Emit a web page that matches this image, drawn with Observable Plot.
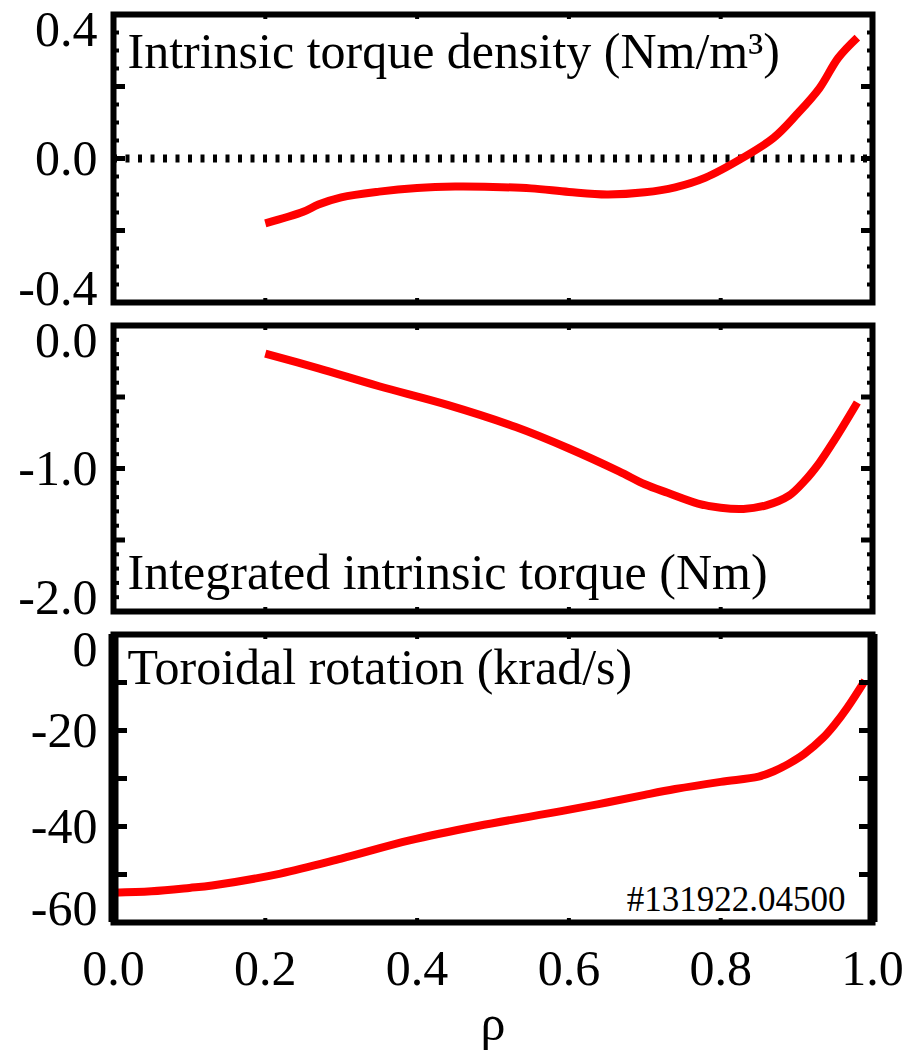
<!DOCTYPE html>
<html><head><meta charset="utf-8">
<script src="https://cdn.jsdelivr.net/npm/d3@7"></script>
<script src="https://cdn.jsdelivr.net/npm/@observablehq/plot@0.6"></script>
<style>
body{margin:0;background:#fff}
#chart svg{display:block}
#chart text{font-family:"Liberation Serif","Times New Roman",serif}
</style>
</head><body><div id="chart"></div>
<script>
// ---- data ----
const rho1 = [0.20,0.25,0.27,0.30,0.35,0.40,0.45,0.50,0.55,0.60,0.65,0.70,0.74,0.78,0.83,0.87,0.90,0.93,0.955,0.98];
const torqueDensity = [-0.180,-0.148,-0.128,-0.108,-0.092,-0.082,-0.078,-0.079,-0.083,-0.093,-0.100,-0.094,-0.080,-0.053,0.003,0.058,0.122,0.195,0.280,0.336];

const rho2 = [0.20,0.27,0.35,0.44,0.53,0.60,0.666,0.70,0.73,0.77,0.80,0.83,0.86,0.89,0.91,0.93,0.95,0.98];
const integratedTorque = [-0.196,-0.30,-0.425,-0.555,-0.71,-0.86,-1.02,-1.11,-1.17,-1.245,-1.275,-1.283,-1.258,-1.19,-1.09,-0.96,-0.80,-0.538];

const rho3 = [0.00,0.05,0.10,0.13,0.22,0.30,0.39,0.48,0.59,0.65,0.70,0.74,0.80,0.85,0.87,0.89,0.91,0.935,0.95,0.967,0.99];
const rotation = [-53.8,-53.5,-52.8,-52.3,-49.8,-46.7,-42.9,-39.9,-36.8,-35.0,-33.4,-32.2,-30.7,-29.6,-28.5,-26.9,-24.9,-21.5,-18.8,-15.2,-9.6];

const xTicks = [0,0.2,0.4,0.6,0.8,1.0];
const titles = ["Intrinsic torque density (Nm/m³)","Integrated intrinsic torque (Nm)","Toroidal rotation (krad/s)"];
const shotLabel = "#131922.04500";
const xLabel = "ρ";

const FONT = "Liberation Serif";
const FS = 50;

function yAxes({major, minor, labelsMid, labelTop, labelBottom, fmt, majorLen = -12, minorLen = -6}) {
  const m = [];
  for (const anchor of ["left","right"]) {
    m.push(Plot.axisY(major, {anchor, tickSize: majorLen, strokeWidth: 5, fill: "none", label: null}));
    if (minor) m.push(Plot.axisY(minor, {anchor, tickSize: minorLen, strokeWidth: 4, fill: "none", label: null}));
  }
  const txt = (ticks, dy) => Plot.axisY(ticks, {anchor: "left", tickSize: 0, tickPadding: 16, dy, fontSize: FS, fontFamily: FONT, tickFormat: fmt, label: null, fill: "black"});
  m.push(txt(labelsMid, 0), txt([labelTop], 15), txt([labelBottom], -14));
  return m;
}

function xTickMarks() {
  return [
    Plot.axisX(xTicks, {anchor: "top", tickSize: -4, strokeWidth: 4, fill: "none", label: null}),
    Plot.axisX(xTicks, {anchor: "bottom", tickSize: -4, strokeWidth: 4, fill: "none", label: null})
  ];
}

const common = {width: 909, marginLeft: 113, marginRight: 37, style: {fontFamily: FONT, background: "white", overflow: "visible", color: "black"}};
const lineOpts = {x: "rho", y: "v", stroke: "#ff0000", strokeWidth: 8, curve: "catmull-rom", strokeLinecap: "butt"};

const d1 = rho1.map((r,i) => ({rho: r, v: torqueDensity[i]}));
const d2 = rho2.map((r,i) => ({rho: r, v: integratedTorque[i]}));
const d3v = rho3.map((r,i) => ({rho: r, v: rotation[i]}));

const p1 = Plot.plot({
  ...common, height: 313, marginTop: 14, marginBottom: 11,
  x: {domain: [0,1]}, y: {domain: [-0.4,0.4]},
  marks: [
    Plot.ruleY([0], {stroke: "black", strokeWidth: 8, strokeDasharray: "4,8.5"}),
    Plot.line(d1, lineOpts),
    Plot.frame({stroke: "black", strokeWidth: 6}),
    ...yAxes({major: d3.range(-0.4,0.41,0.2).map(v=>+v.toFixed(2)), minor: d3.range(-0.4,0.41,0.05).map(v=>+v.toFixed(2)), labelsMid: [0], labelTop: 0.4, labelBottom: -0.4, fmt: d => d.toFixed(1)}),
    ...xTickMarks(),
    Plot.text([titles[0]], {text: d => d, frameAnchor: "top-left", textAnchor: "start", lineAnchor: "bottom", dx: 14, dy: 53, fontSize: FS, fontFamily: FONT})
  ]
});

const p2 = Plot.plot({
  ...common, height: 310, marginTop: 12, marginBottom: 12,
  x: {domain: [0,1]}, y: {domain: [-2,0]},
  marks: [
    Plot.line(d2, lineOpts),
    Plot.frame({stroke: "black", strokeWidth: 6}),
    ...yAxes({major: [-2,-1.5,-1,-0.5,0], minor: d3.range(-2,0.01,0.1).map(v=>+v.toFixed(2)), labelsMid: [-1], labelTop: 0, labelBottom: -2, fmt: d => d.toFixed(1)}),
    ...xTickMarks(),
    Plot.text([titles[1]], {text: d => d, frameAnchor: "bottom-left", textAnchor: "start", lineAnchor: "bottom", dx: 14, dy: -23, fontSize: FS, fontFamily: FONT})
  ]
});

const p3 = Plot.plot({
  ...common, height: 427, marginTop: 11, marginBottom: 128,
  x: {domain: [0,1]}, y: {domain: [-60,0]},
  marks: [
    Plot.line(d3v, lineOpts),
    Plot.frame({stroke: "black", strokeWidth: 6}),
    Plot.ruleX([0,1], {stroke: "black", strokeWidth: 10}),
    ...yAxes({major: [-60,-50,-40,-30,-20,-10,0], minor: null, labelsMid: [-20,-40], labelTop: 0, labelBottom: -60, fmt: d => String(d), majorLen: -14}),
    ...xTickMarks(),
    Plot.axisX(xTicks, {anchor: "bottom", tickSize: 0, tickPadding: 27, fontSize: FS, fontFamily: FONT, tickFormat: d => d.toFixed(1), fill: "black", label: xLabel, labelArrow: "none", labelAnchor: "center", labelOffset: 117}),
    Plot.text([titles[2]], {text: d => d, frameAnchor: "top-left", textAnchor: "start", lineAnchor: "bottom", dx: 14, dy: 49, fontSize: FS, fontFamily: FONT}),
    Plot.text([shotLabel], {text: d => d, frameAnchor: "bottom-right", textAnchor: "end", lineAnchor: "bottom", dx: -27, dy: -12, fontSize: 35, fontFamily: FONT})
  ]
});

const c = document.getElementById("chart");
c.append(p1, p2, p3);
</script></body></html>
